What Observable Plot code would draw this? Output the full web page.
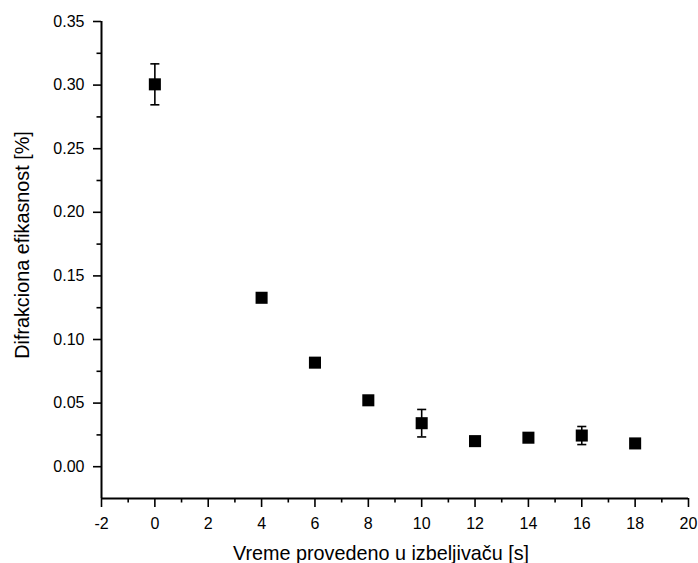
<!DOCTYPE html>
<html>
<head>
<meta charset="utf-8">
<script src="https://cdn.jsdelivr.net/npm/d3@7"></script>
<script src="https://cdn.jsdelivr.net/npm/@observablehq/plot@0.6"></script>
<style>
  html, body { margin: 0; padding: 0; background: #fff; }
</style>
</head>
<body>
<div id="chart"></div>
<script>
const times = [0, 4, 6, 8, 10, 12, 14, 16, 18];
const efficiency = [0.3006, 0.1328, 0.0818, 0.0522, 0.0342, 0.0201, 0.0228, 0.0245, 0.0183];
const errors = [0.0161, 0.0018, 0.0035, 0.0012, 0.0108, 0.0012, 0.0012, 0.0071, 0.0010];
const xMajorTicks = [-2, 0, 2, 4, 6, 8, 10, 12, 14, 16, 18, 20];
const xMinorTicks = [-1, 1, 3, 5, 7, 9, 11, 13, 15, 17, 19];
const yMajorTicks = [0, 0.05, 0.10, 0.15, 0.20, 0.25, 0.30, 0.35];
const yMinorTicks = [0.025, 0.075, 0.125, 0.175, 0.225, 0.275, 0.325];
const xLabel = "Vreme provedeno u izbeljivaču [s]";
const yLabel = "Difrakciona efikasnost [%]";

const data = times.map((t, i) => ({x: t, y: efficiency[i], e: errors[i]}));
const capHalf = 0.17;

const chart = Plot.plot({
  width: 698,
  height: 563,
  marginLeft: 101,
  marginRight: 10,
  marginTop: 21,
  marginBottom: 65,
  style: {fontFamily: "'Liberation Sans', Arial, sans-serif", color: "#000", background: "#fff"},
  x: {domain: [-2, 20]},
  y: {domain: [-0.025, 0.35]},
  marks: [
    Plot.axisX({ticks: xMajorTicks, tickSize: 9, strokeWidth: 1.6, text: null, label: null}),
    Plot.axisX({ticks: xMinorTicks, tickSize: 4.5, strokeWidth: 1.6, text: null, label: null}),
    Plot.axisY({ticks: yMajorTicks, tickSize: 8, strokeWidth: 1.6, text: null, label: null}),
    Plot.axisY({ticks: yMinorTicks, tickSize: 4.5, strokeWidth: 1.6, text: null, label: null}),
    Plot.text(xMajorTicks, {x: d => d, frameAnchor: "bottom", lineAnchor: "top", dy: 19, fontSize: 16, fill: "#000", text: d => String(d)}),
    Plot.text(yMajorTicks, {y: d => d, frameAnchor: "left", textAnchor: "end", lineAnchor: "middle", dx: -17, fontSize: 16, fill: "#000", text: d => d3.format(".2f")(d)}),
    Plot.ruleX([-2], {stroke: "#000", strokeWidth: 2}),
    Plot.ruleY([-0.025], {stroke: "#000", strokeWidth: 2}),
    Plot.ruleX(data, {x: "x", y1: d => d.y - d.e, y2: d => d.y + d.e, stroke: "#000", strokeWidth: 1.6}),
    Plot.link(data, {x1: d => d.x - capHalf, x2: d => d.x + capHalf, y1: d => d.y + d.e, y2: d => d.y + d.e, stroke: "#000", strokeWidth: 1.6}),
    Plot.link(data, {x1: d => d.x - capHalf, x2: d => d.x + capHalf, y1: d => d.y - d.e, y2: d => d.y - d.e, stroke: "#000", strokeWidth: 1.6}),
    Plot.dot(data, {x: "x", y: "y", symbol: "square", r: 6.8, fill: "#000", stroke: "none"}),
    Plot.text([xLabel], {frameAnchor: "bottom", textAnchor: "middle", dx: -14, dy: 61, fontSize: 19.8, text: d => d, fill: "#000"}),
    Plot.text([yLabel], {frameAnchor: "left", textAnchor: "middle", lineAnchor: "middle", dx: -79, dy: -15, rotate: -90, fontSize: 19.8, text: d => d, fill: "#000"})
  ]
});
document.getElementById("chart").appendChild(chart);
</script>
</body>
</html>
